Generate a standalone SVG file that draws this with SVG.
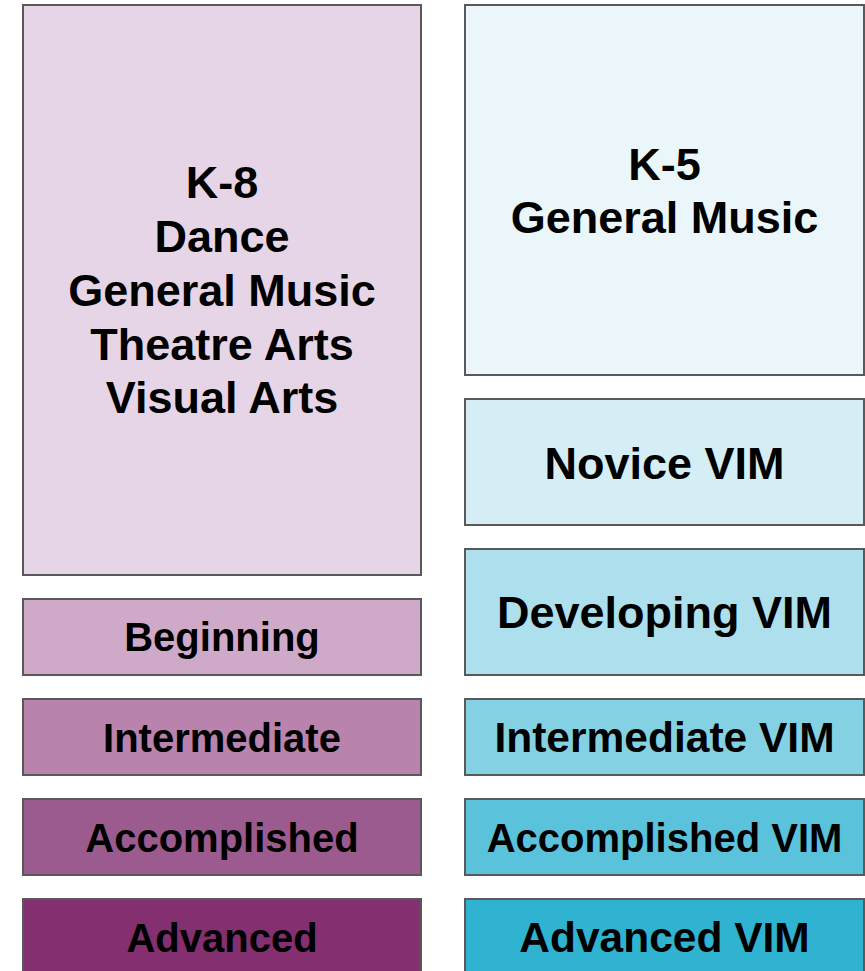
<svg xmlns="http://www.w3.org/2000/svg" width="865" height="971" viewBox="0 0 865 971">
<style>
rect{stroke:#595959;stroke-width:2}
text{font-family:"Liberation Sans",Arial,sans-serif;font-weight:bold;fill:#000;text-anchor:middle}
.b{font-size:45px}
.s{font-size:40px}
</style>
<rect x="0" y="0" width="865" height="971" fill="#fff" style="stroke:none"/>
<g id="k8">
<rect x="23" y="5" width="398" height="570" fill="#e6d5e6"/>
<text class="b" x="222" y="198">K-8</text>
<text class="b" x="222" y="252">Dance</text>
<text class="b" x="222" y="306">General Music</text>
<text class="b" x="222" y="360">Theatre Arts</text>
<text class="b" x="222" y="413">Visual Arts</text>
</g>
<g id="beginning">
<rect x="23" y="599" width="398" height="76" fill="#cfaac8"/>
<text class="s" x="222" y="651">Beginning</text>
</g>
<g id="intermediate">
<rect x="23" y="699" width="398" height="76" fill="#b983ae"/>
<text class="s" x="222" y="752">Intermediate</text>
</g>
<g id="accomplished">
<rect x="23" y="799" width="398" height="76" fill="#9c5b8f"/>
<text class="s" x="222" y="852">Accomplished</text>
</g>
<g id="advanced">
<rect x="23" y="899" width="398" height="80" fill="#832f70"/>
<text class="s" x="222" y="952">Advanced</text>
</g>
<g id="k5">
<rect x="465" y="5" width="399" height="370" fill="#eaf6f9"/>
<text class="b" x="664.5" y="180">K-5</text>
<text class="b" x="664.5" y="233">General Music</text>
</g>
<g id="novice">
<rect x="465" y="399" width="399" height="126" fill="#d5eef5"/>
<text class="b" x="664.5" y="479">Novice VIM</text>
</g>
<g id="developing">
<rect x="465" y="549" width="399" height="126" fill="#ade0ec"/>
<text class="b" x="664.5" y="628">Developing VIM</text>
</g>
<g id="intermediate-vim">
<rect x="465" y="699" width="399" height="76" fill="#83d1e2"/>
<text class="s" x="664.5" y="752" style="font-size:42.5px">Intermediate VIM</text>
</g>
<g id="accomplished-vim">
<rect x="465" y="799" width="399" height="76" fill="#5ac2da"/>
<text class="s" x="664.5" y="852">Accomplished VIM</text>
</g>
<g id="advanced-vim">
<rect x="465" y="899" width="399" height="80" fill="#2fb3d1"/>
<text class="s" x="664.5" y="952" style="font-size:42.5px">Advanced VIM</text>
</g>
<g id="connectors"></g>
</svg>
